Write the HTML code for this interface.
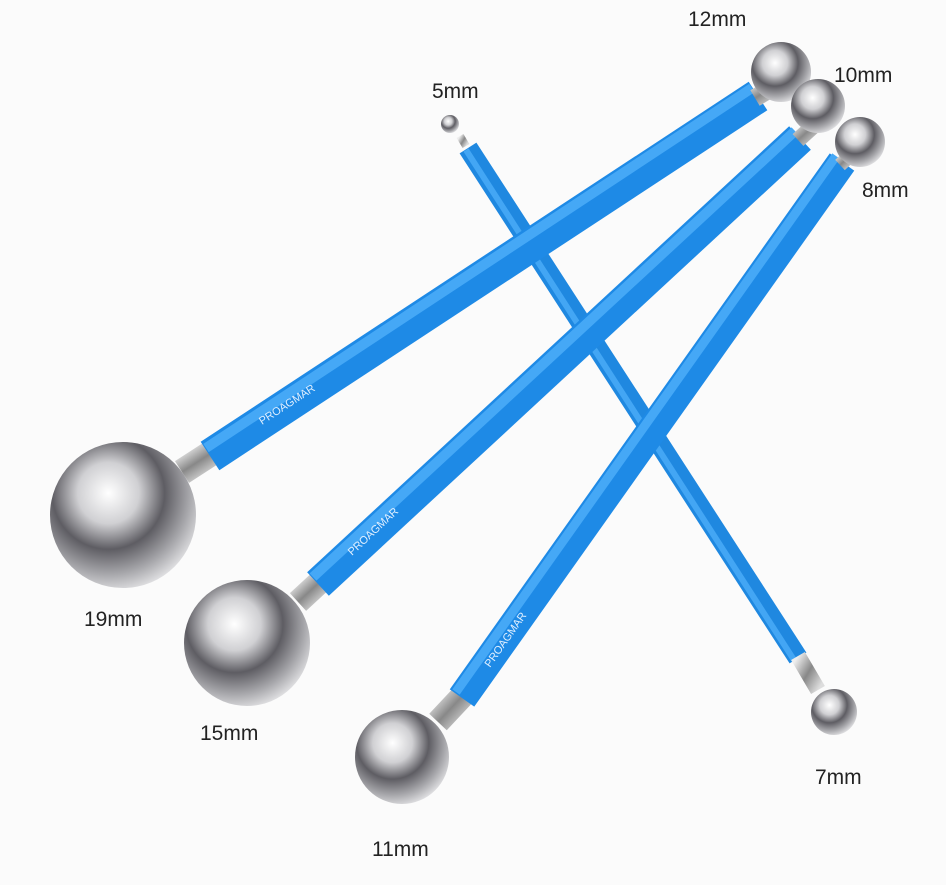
<!DOCTYPE html>
<html><head><meta charset="utf-8"><style>
html,body{margin:0;padding:0;background:#fbfbfb;}
svg{display:block}
text{font-family:"Liberation Sans",sans-serif;font-size:21px;fill:#222;}
</style></head><body>
<svg width="946" height="885" viewBox="0 0 946 885">
<defs>
<radialGradient id="ball" cx="0.4" cy="0.35" r="0.7">
<stop offset="0" stop-color="#ffffff"/>
<stop offset="0.3" stop-color="#d0d0d3"/>
<stop offset="0.55" stop-color="#5e5d63"/>
<stop offset="0.8" stop-color="#a9a9ad"/>
<stop offset="1" stop-color="#e8e8ea"/>
</radialGradient>
<linearGradient id="fer" x1="0" y1="0" x2="1" y2="1">
<stop offset="0" stop-color="#eee"/><stop offset="0.5" stop-color="#888"/><stop offset="1" stop-color="#ddd"/>
</linearGradient>
</defs>
<rect width="946" height="885" fill="#fbfbfb"/>

<line x1="460" y1="136" x2="466" y2="146" stroke="url(#fer)" stroke-width="8"/>
<line x1="468" y1="148" x2="798" y2="658" stroke="#1f88e0" stroke-width="20"/>
<line x1="466" y1="150" x2="794" y2="660" stroke="#43a6f4" stroke-width="6"/>
<line x1="798" y1="656" x2="818" y2="690" stroke="url(#fer)" stroke-width="16"/>
<circle cx="450" cy="124" r="9" fill="url(#ball)"/>
<circle cx="834" cy="712" r="23" fill="url(#ball)"/>

<line x1="182" y1="472" x2="216" y2="450" stroke="url(#fer)" stroke-width="26"/>
<line x1="210" y1="456" x2="758" y2="96" stroke="#1e8ae6" stroke-width="34"/>
<line x1="206" y1="448" x2="752" y2="88" stroke="#45a8f6" stroke-width="10"/>
<line x1="755" y1="98" x2="785" y2="80" stroke="url(#fer)" stroke-width="18"/>
<circle cx="123" cy="515" r="73" fill="url(#ball)"/>
<circle cx="781" cy="72" r="30" fill="url(#ball)"/>
<text x="262" y="425" transform="rotate(-33 262 425)" style="font-size:11px;fill:#dfefff">PROAGMAR</text>

<line x1="298" y1="602" x2="324" y2="578" stroke="url(#fer)" stroke-width="24"/>
<line x1="318" y1="584" x2="800" y2="138" stroke="#1e8ae6" stroke-width="32"/>
<line x1="313" y1="577" x2="795" y2="131" stroke="#45a8f6" stroke-width="10"/>
<line x1="798" y1="140" x2="820" y2="120" stroke="url(#fer)" stroke-width="16"/>
<circle cx="247" cy="643" r="63" fill="url(#ball)"/>
<circle cx="818" cy="106" r="27" fill="url(#ball)"/>
<text x="352" y="556" transform="rotate(-43 352 556)" style="font-size:11px;fill:#dfefff">PROAGMAR</text>

<line x1="438" y1="722" x2="468" y2="690" stroke="url(#fer)" stroke-width="24"/>
<line x1="462" y1="698" x2="842" y2="162" stroke="#1e8ae6" stroke-width="30"/>
<line x1="456" y1="692" x2="836" y2="156" stroke="#45a8f6" stroke-width="9"/>
<line x1="840" y1="165" x2="856" y2="150" stroke="url(#fer)" stroke-width="14"/>
<circle cx="402" cy="757" r="47" fill="url(#ball)"/>
<circle cx="860" cy="142" r="25" fill="url(#ball)"/>
<text x="490" y="668" transform="rotate(-55 490 668)" style="font-size:11px;fill:#dfefff">PROAGMAR</text>

<text x="688" y="26">12mm</text>
<text x="834" y="82">10mm</text>
<text x="432" y="98">5mm</text>
<text x="862" y="197">8mm</text>
<text x="84" y="626">19mm</text>
<text x="200" y="740">15mm</text>
<text x="815" y="784">7mm</text>
<text x="372" y="856">11mm</text>
</svg>
</body></html>
